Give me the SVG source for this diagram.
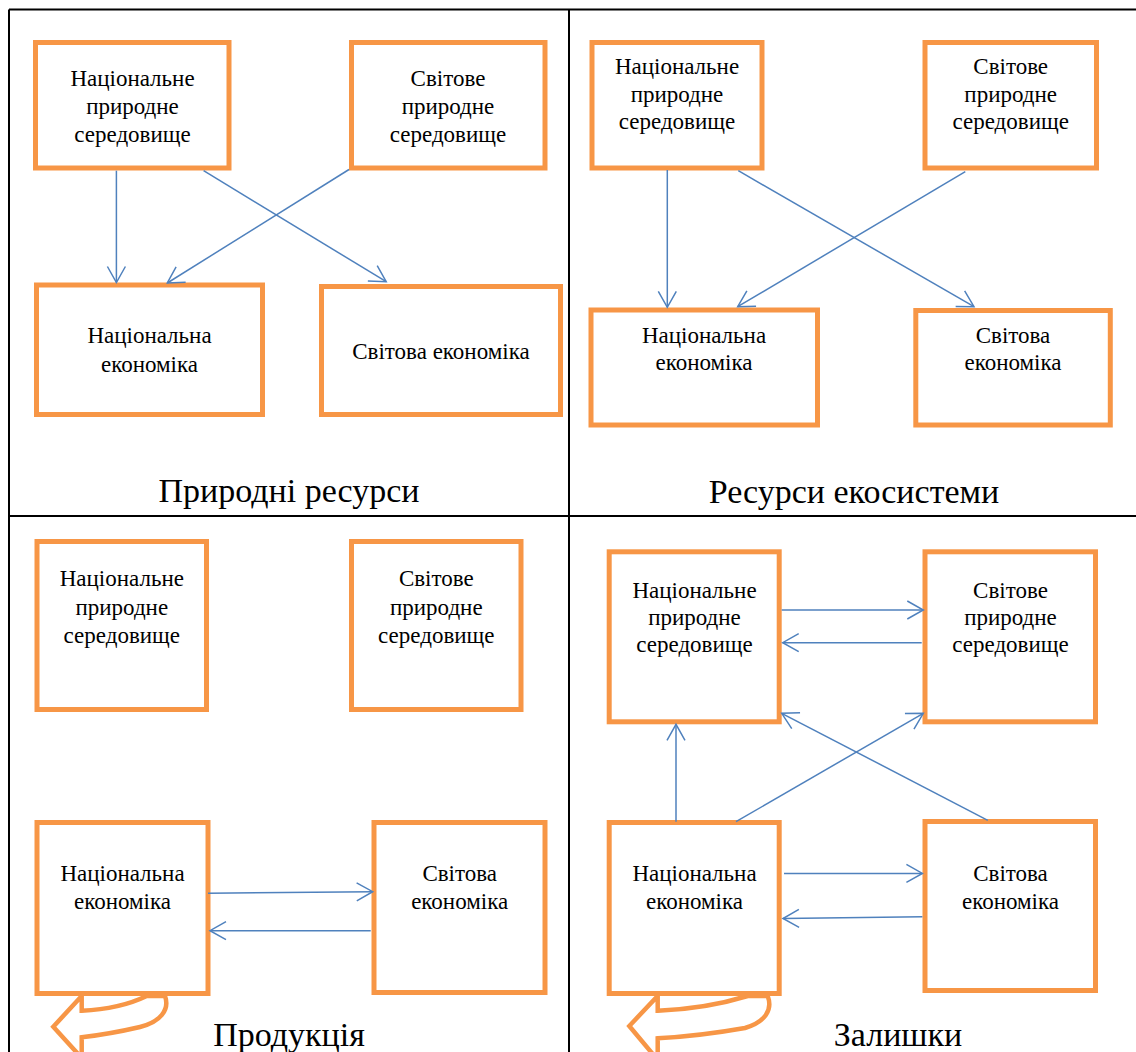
<svg xmlns="http://www.w3.org/2000/svg" width="1136" height="1052" viewBox="0 0 1136 1052">
<defs>
<style>
.grid{stroke:#000;stroke-width:2;fill:none}
.box{fill:#fff;stroke:#F79646;stroke-width:5}
.turn{fill:#fff;stroke:#F79646;stroke-width:4.5;stroke-linejoin:miter}
.t{font-family:"Liberation Serif","Times New Roman",serif;font-size:23px;fill:#000;text-anchor:middle}
.h{font-family:"Liberation Serif","Times New Roman",serif;font-size:34px;fill:#000;text-anchor:middle}
.c{stroke:#4F81BD;stroke-width:1.5;fill:none;marker-end:url(#ah)}
</style>
<marker id="ah" viewBox="-19 -11 21 22" refX="0" refY="0" markerWidth="21" markerHeight="22" markerUnits="userSpaceOnUse" orient="auto">
<path d="M-16,-9 L0,0 L-16,9" fill="none" stroke="#4F81BD" stroke-width="1.5"/>
</marker>
</defs>
<rect width="1136" height="1052" fill="#fff"/>
<g id="table">
<path class="grid" d="M9 9.5 H1136 M9 9.5 V1052 M569 9.5 V1052 M9 516 H1136"/>
</g>
<g id="headings">
<text class="h" x="289" y="502">Природні ресурси</text>
<text class="h" x="854" y="503">Ресурси екосистеми</text>
<text class="h" x="289" y="1046">Продукція</text>
<text class="h" x="898" y="1046">Залишки</text>
</g>
<g id="tl-nps"><rect class="box" x="35.5" y="42.5" width="193.5" height="125.5"/>
<text class="t" x="132.5" y="86">Національне</text><text class="t" x="132.5" y="114">природне</text><text class="t" x="132.5" y="142">середовище</text></g>
<g id="tl-sps"><rect class="box" x="351.5" y="42.5" width="193.5" height="125.5"/>
<text class="t" x="448" y="86">Світове</text><text class="t" x="448" y="114">природне</text><text class="t" x="448" y="142">середовище</text></g>
<g id="tl-ne"><rect class="box" x="36.5" y="285" width="226" height="129.5"/>
<text class="t" x="149.5" y="343">Національна</text><text class="t" x="149.5" y="371.5">економіка</text></g>
<g id="tl-se"><rect class="box" x="321.5" y="286.5" width="239" height="128"/>
<text class="t" x="441" y="358.5">Світова економіка</text></g>
<g id="tr-nps"><rect class="box" x="592" y="42.5" width="170" height="125.5"/>
<text class="t" x="677" y="74">Національне</text><text class="t" x="677" y="101.7">природне</text><text class="t" x="677" y="129.3">середовище</text></g>
<g id="tr-sps"><rect class="box" x="925" y="42.5" width="171.5" height="125.5"/>
<text class="t" x="1010.7" y="74">Світове</text><text class="t" x="1010.7" y="101.7">природне</text><text class="t" x="1010.7" y="129.3">середовище</text></g>
<g id="tr-ne"><rect class="box" x="591" y="310" width="226.5" height="115"/>
<text class="t" x="704" y="342.7">Національна</text><text class="t" x="704" y="370">економіка</text></g>
<g id="tr-se"><rect class="box" x="915.8" y="310.5" width="194.5" height="114.5"/>
<text class="t" x="1013" y="342.7">Світова</text><text class="t" x="1013" y="370">економіка</text></g>
<g id="bl-turn"><path class="turn" d="M81.7 996 L81.7 1010.7 Q120 1009 146.7 996 L165 996 C170 1010 160 1022 140 1027 Q110 1034 81.7 1037.3 L81.7 1058 L53.3 1026.7 Z"/></g>
<g id="br-turn"><path class="turn" d="M657.7 996 L657.7 1010.7 Q705 1009 747.7 996 L767.7 996 C773 1010 765 1022 745 1028 Q700 1036 657.7 1038.3 L657.7 1060 L629.3 1026 Z"/></g>
<g id="bl-nps"><rect class="box" x="37" y="541.5" width="169.5" height="168"/>
<text class="t" x="121.8" y="586">Національне</text><text class="t" x="121.8" y="614.5">природне</text><text class="t" x="121.8" y="642.7">середовище</text></g>
<g id="bl-sps"><rect class="box" x="351.5" y="541.5" width="169.5" height="168"/>
<text class="t" x="436.3" y="586">Світове</text><text class="t" x="436.3" y="614.5">природне</text><text class="t" x="436.3" y="642.7">середовище</text></g>
<g id="bl-ne"><rect class="box" x="37" y="822.5" width="171" height="171"/>
<text class="t" x="122.5" y="881">Національна</text><text class="t" x="122.5" y="909.3">економіка</text></g>
<g id="bl-se"><rect class="box" x="374" y="822.5" width="171" height="170"/>
<text class="t" x="459.7" y="881">Світова</text><text class="t" x="459.7" y="909">економіка</text></g>
<g id="br-nps"><rect class="box" x="609.2" y="551.8" width="170" height="170"/>
<text class="t" x="694.5" y="597.7">Національне</text><text class="t" x="694.5" y="624.8">природне</text><text class="t" x="694.5" y="652">середовище</text></g>
<g id="br-sps"><rect class="box" x="925" y="551.8" width="170.5" height="170"/>
<text class="t" x="1010.5" y="597.7">Світове</text><text class="t" x="1010.5" y="624.8">природне</text><text class="t" x="1010.5" y="652">середовище</text></g>
<g id="br-ne"><rect class="box" x="609.2" y="822.5" width="170" height="171"/>
<text class="t" x="694.5" y="881">Національна</text><text class="t" x="694.5" y="909">економіка</text></g>
<g id="br-se"><rect class="box" x="925" y="821.5" width="170.5" height="169"/>
<text class="t" x="1010.5" y="881">Світова</text><text class="t" x="1010.5" y="908.5">економіка</text></g>
<g id="connectors">
<path class="c" d="M116.4 170.7 V282.5"/>
<path class="c" d="M349 169.5 L167.3 283"/>
<path class="c" d="M203.6 170.7 L386.2 281.7"/>
<path class="c" d="M667.3 170 V307.3"/>
<path class="c" d="M738.3 170.7 L974 306.7"/>
<path class="c" d="M965.3 171.7 L737.7 306.7"/>
<path class="c" d="M208 893.3 L372.7 891.7"/>
<path class="c" d="M370.7 930.7 L210 930.7"/>
<path class="c" d="M781.7 610 L923.3 610"/>
<path class="c" d="M921.7 642.7 L782.7 642.7"/>
<path class="c" d="M676 821.7 V724.3"/>
<path class="c" d="M736 821.7 L923.3 713.3"/>
<path class="c" d="M987.8 820.3 L781.7 713.3"/>
<path class="c" d="M784 873.4 L922.4 873.4"/>
<path class="c" d="M922.4 916.7 L783 918.5"/>
</g>
</svg>
